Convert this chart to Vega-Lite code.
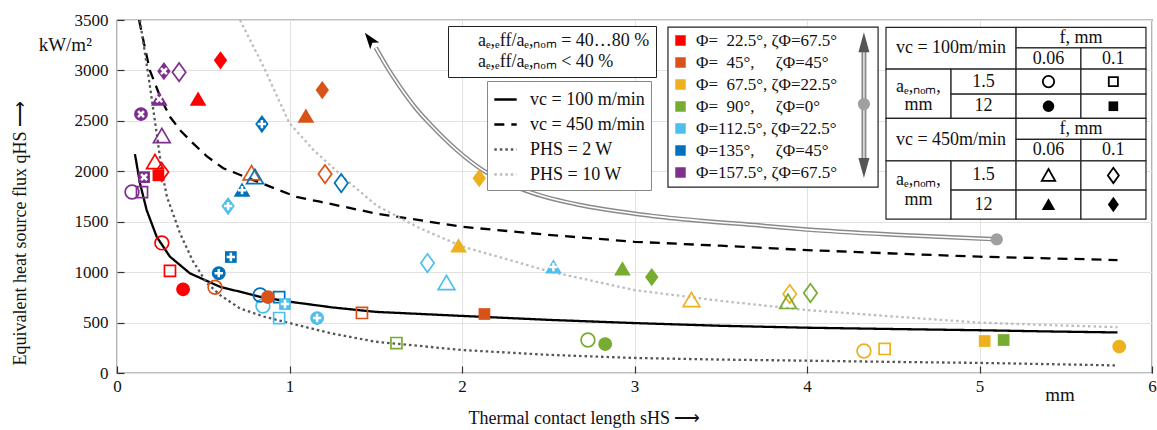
{
  "$schema": "https://vega.github.io/schema/vega-lite/v6.json",
  "width": 1035,
  "height": 353,
  "autosize": {"type": "none"},
  "padding": {"left": 117, "top": 20, "right": 5, "bottom": 57},
  "background": "white",
  "config": {
    "font": "Liberation Serif, Times New Roman, serif",
    "view": {"stroke": "#000", "strokeWidth": 1.2},
    "axis": {"labelFont": "Liberation Serif, Times New Roman, serif", "titleFont": "Liberation Serif, Times New Roman, serif", "labelColor": "#111", "titleColor": "#111"},
    "legend": {"labelFont": "Liberation Serif, Times New Roman, serif", "labelColor": "#111"},
    "text": {"font": "Liberation Serif, Times New Roman, serif"}
  },
  "datasets": {
    "pts": [
      {"x": 0.60, "y": 3100, "p": 22.5, "m": "diamond", "f": "filled", "o": ""},
      {"x": 0.47, "y": 2715, "p": 22.5, "m": "triangle", "f": "filled", "o": ""},
      {"x": 0.22, "y": 2091, "p": 22.5, "m": "triangle", "f": "open", "o": ""},
      {"x": 0.24, "y": 1960, "p": 22.5, "m": "square", "f": "filled", "o": ""},
      {"x": 0.26, "y": 1992, "p": 22.5, "m": "diamond", "f": "open", "o": ""},
      {"x": 0.26, "y": 1290, "p": 22.5, "m": "circle", "f": "open", "o": ""},
      {"x": 0.307, "y": 1012, "p": 22.5, "m": "square", "f": "open", "o": ""},
      {"x": 0.383, "y": 830, "p": 22.5, "m": "circle", "f": "filled", "o": ""},
      {"x": 1.19, "y": 2805, "p": 45, "m": "diamond", "f": "filled", "o": ""},
      {"x": 1.095, "y": 2547, "p": 45, "m": "triangle", "f": "filled", "o": ""},
      {"x": 0.78, "y": 1980, "p": 45, "m": "triangle", "f": "open", "o": ""},
      {"x": 1.206, "y": 1972, "p": 45, "m": "diamond", "f": "open", "o": ""},
      {"x": 0.568, "y": 850, "p": 45, "m": "circle", "f": "open", "o": ""},
      {"x": 0.875, "y": 753, "p": 45, "m": "circle", "f": "filled", "o": ""},
      {"x": 1.42, "y": 595, "p": 45, "m": "square", "f": "open", "o": ""},
      {"x": 2.13, "y": 585, "p": 45, "m": "square", "f": "filled", "o": ""},
      {"x": 2.10, "y": 1932, "p": 67.5, "m": "diamond", "f": "filled", "o": ""},
      {"x": 1.98, "y": 1259, "p": 67.5, "m": "triangle", "f": "filled", "o": ""},
      {"x": 3.33, "y": 723, "p": 67.5, "m": "triangle", "f": "open", "o": ""},
      {"x": 3.90, "y": 783, "p": 67.5, "m": "diamond", "f": "open", "o": ""},
      {"x": 4.33, "y": 218, "p": 67.5, "m": "circle", "f": "open", "o": ""},
      {"x": 4.45, "y": 238, "p": 67.5, "m": "square", "f": "open", "o": ""},
      {"x": 5.03, "y": 317, "p": 67.5, "m": "square", "f": "filled", "o": ""},
      {"x": 5.81, "y": 262, "p": 67.5, "m": "circle", "f": "filled", "o": ""},
      {"x": 2.93, "y": 1031, "p": 90, "m": "triangle", "f": "filled", "o": ""},
      {"x": 3.10, "y": 951, "p": 90, "m": "diamond", "f": "filled", "o": ""},
      {"x": 3.89, "y": 704, "p": 90, "m": "triangle", "f": "open", "o": ""},
      {"x": 4.02, "y": 793, "p": 90, "m": "diamond", "f": "open", "o": ""},
      {"x": 1.62, "y": 297, "p": 90, "m": "square", "f": "open", "o": ""},
      {"x": 2.73, "y": 327, "p": 90, "m": "circle", "f": "open", "o": ""},
      {"x": 2.83, "y": 287, "p": 90, "m": "circle", "f": "filled", "o": ""},
      {"x": 5.14, "y": 327, "p": 90, "m": "square", "f": "filled", "o": ""},
      {"x": 0.644, "y": 1655, "p": 112.5, "m": "diamond", "f": "filled", "o": "+"},
      {"x": 1.80, "y": 1090, "p": 112.5, "m": "diamond", "f": "open", "o": ""},
      {"x": 1.91, "y": 892, "p": 112.5, "m": "triangle", "f": "open", "o": ""},
      {"x": 2.53, "y": 1051, "p": 112.5, "m": "triangle", "f": "filled", "o": "+"},
      {"x": 0.846, "y": 664, "p": 112.5, "m": "circle", "f": "open", "o": ""},
      {"x": 0.974, "y": 684, "p": 112.5, "m": "square", "f": "filled", "o": "+"},
      {"x": 0.94, "y": 545, "p": 112.5, "m": "square", "f": "open", "o": ""},
      {"x": 1.16, "y": 545, "p": 112.5, "m": "circle", "f": "filled", "o": "+"},
      {"x": 0.84, "y": 2468, "p": 135, "m": "diamond", "f": "filled", "o": "+"},
      {"x": 0.725, "y": 1813, "p": 135, "m": "triangle", "f": "filled", "o": "+"},
      {"x": 0.80, "y": 1942, "p": 135, "m": "triangle", "f": "open", "o": ""},
      {"x": 1.30, "y": 1883, "p": 135, "m": "diamond", "f": "open", "o": ""},
      {"x": 0.59, "y": 990, "p": 135, "m": "circle", "f": "filled", "o": "+"},
      {"x": 0.66, "y": 1150, "p": 135, "m": "square", "f": "filled", "o": "+"},
      {"x": 0.83, "y": 773, "p": 135, "m": "circle", "f": "open", "o": ""},
      {"x": 0.94, "y": 753, "p": 135, "m": "square", "f": "open", "o": ""},
      {"x": 0.272, "y": 2993, "p": 157.5, "m": "diamond", "f": "filled", "o": "x"},
      {"x": 0.36, "y": 2983, "p": 157.5, "m": "diamond", "f": "open", "o": ""},
      {"x": 0.245, "y": 2715, "p": 157.5, "m": "triangle", "f": "filled", "o": "x"},
      {"x": 0.26, "y": 2349, "p": 157.5, "m": "triangle", "f": "open", "o": ""},
      {"x": 0.139, "y": 2567, "p": 157.5, "m": "circle", "f": "filled", "o": "x"},
      {"x": 0.157, "y": 1942, "p": 157.5, "m": "square", "f": "filled", "o": "x"},
      {"x": 0.087, "y": 1794, "p": 157.5, "m": "circle", "f": "open", "o": ""},
      {"x": 0.145, "y": 1794, "p": 157.5, "m": "square", "f": "open", "o": ""}
    ],
    "crv": [
      {"c": "v100", "x": 0.104, "y": 2170}, {"c": "v100", "x": 0.133, "y": 1883}, {"c": "v100", "x": 0.172, "y": 1615},
      {"c": "v100", "x": 0.23, "y": 1351}, {"c": "v100", "x": 0.307, "y": 1153}, {"c": "v100", "x": 0.423, "y": 988},
      {"c": "v100", "x": 0.597, "y": 855}, {"c": "v100", "x": 0.829, "y": 756}, {"c": "v100", "x": 1.0, "y": 707},
      {"c": "v100", "x": 1.25, "y": 650}, {"c": "v100", "x": 1.5, "y": 606}, {"c": "v100", "x": 2.0, "y": 566},
      {"c": "v100", "x": 2.5, "y": 527}, {"c": "v100", "x": 3.0, "y": 495}, {"c": "v100", "x": 3.5, "y": 468},
      {"c": "v100", "x": 4.0, "y": 449}, {"c": "v100", "x": 4.5, "y": 436}, {"c": "v100", "x": 5.0, "y": 424},
      {"c": "v100", "x": 5.4, "y": 412}, {"c": "v100", "x": 5.8, "y": 402},
      {"c": "v450", "x": 0.128, "y": 3500}, {"c": "v450", "x": 0.16, "y": 3240}, {"c": "v450", "x": 0.19, "y": 3003},
      {"c": "v450", "x": 0.25, "y": 2740}, {"c": "v450", "x": 0.307, "y": 2540}, {"c": "v450", "x": 0.37, "y": 2400},
      {"c": "v450", "x": 0.44, "y": 2279}, {"c": "v450", "x": 0.52, "y": 2150}, {"c": "v450", "x": 0.616, "y": 2030},
      {"c": "v450", "x": 0.79, "y": 1913}, {"c": "v450", "x": 1.04, "y": 1747}, {"c": "v450", "x": 1.177, "y": 1698},
      {"c": "v450", "x": 1.5, "y": 1582}, {"c": "v450", "x": 2.0, "y": 1450}, {"c": "v450", "x": 2.5, "y": 1370},
      {"c": "v450", "x": 3.0, "y": 1301}, {"c": "v450", "x": 3.5, "y": 1262}, {"c": "v450", "x": 4.0, "y": 1219},
      {"c": "v450", "x": 4.5, "y": 1185}, {"c": "v450", "x": 5.0, "y": 1153}, {"c": "v450", "x": 5.4, "y": 1137},
      {"c": "v450", "x": 5.8, "y": 1120},
      {"c": "p2", "x": 0.133, "y": 3500}, {"c": "p2", "x": 0.155, "y": 3250}, {"c": "p2", "x": 0.18, "y": 2973},
      {"c": "p2", "x": 0.23, "y": 2378}, {"c": "p2", "x": 0.26, "y": 2000}, {"c": "p2", "x": 0.29, "y": 1744},
      {"c": "p2", "x": 0.365, "y": 1387}, {"c": "p2", "x": 0.44, "y": 1110}, {"c": "p2", "x": 0.52, "y": 892},
      {"c": "p2", "x": 0.6, "y": 770}, {"c": "p2", "x": 0.713, "y": 640}, {"c": "p2", "x": 0.85, "y": 560},
      {"c": "p2", "x": 1.0, "y": 495}, {"c": "p2", "x": 1.25, "y": 390}, {"c": "p2", "x": 1.5, "y": 310},
      {"c": "p2", "x": 2.0, "y": 228}, {"c": "p2", "x": 2.5, "y": 180}, {"c": "p2", "x": 3.0, "y": 149},
      {"c": "p2", "x": 3.5, "y": 133}, {"c": "p2", "x": 4.0, "y": 122}, {"c": "p2", "x": 4.5, "y": 110},
      {"c": "p2", "x": 5.0, "y": 100}, {"c": "p2", "x": 5.4, "y": 88}, {"c": "p2", "x": 5.8, "y": 75},
      {"c": "p10", "x": 0.713, "y": 3500}, {"c": "p10", "x": 0.85, "y": 3036}, {"c": "p10", "x": 1.0, "y": 2476},
      {"c": "p10", "x": 1.14, "y": 2210}, {"c": "p10", "x": 1.33, "y": 1913}, {"c": "p10", "x": 1.505, "y": 1660},
      {"c": "p10", "x": 1.75, "y": 1440}, {"c": "p10", "x": 2.0, "y": 1255}, {"c": "p10", "x": 2.5, "y": 1010},
      {"c": "p10", "x": 3.0, "y": 822}, {"c": "p10", "x": 3.5, "y": 715}, {"c": "p10", "x": 4.0, "y": 624},
      {"c": "p10", "x": 4.5, "y": 560}, {"c": "p10", "x": 5.0, "y": 500}, {"c": "p10", "x": 5.4, "y": 475},
      {"c": "p10", "x": 5.8, "y": 455}
    ],
    "arr": [
      {"x": 1.5, "y": 3225}, {"x": 1.57, "y": 3020}, {"x": 1.64, "y": 2838}, {"x": 1.73, "y": 2630}, {"x": 1.83, "y": 2441},
      {"x": 1.97, "y": 2210}, {"x": 2.12, "y": 2012}, {"x": 2.26, "y": 1885},
      {"x": 2.41, "y": 1784}, {"x": 2.70, "y": 1660}, {"x": 3.09, "y": 1560}, {"x": 3.38, "y": 1510},
      {"x": 3.73, "y": 1462}, {"x": 4.0, "y": 1422}, {"x": 4.54, "y": 1368}, {"x": 5.10, "y": 1325}
    ],
    "heads": [
      {"x": 1.467, "y": 3305, "k": "main"},
      {"x": 4.33, "y": 3280, "k": "up"},
      {"x": 4.33, "y": 2032, "k": "down"}
    ],
    "dots": [{"x": 5.10, "y": 1325}, {"x": 4.33, "y": 2666}],
    "shaft": [{"x": 4.33, "y": 3250, "y2": 2060}],
    "boxes": [
      {"x1": 3.194, "x2": 4.412, "y1": 1843, "y2": 3429},
      {"x1": 4.458, "x2": 5.212, "y1": 3013, "y2": 3426},
      {"x1": 5.212, "x2": 5.965, "y1": 3224, "y2": 3426},
      {"x1": 5.212, "x2": 5.588, "y1": 3013, "y2": 3224},
      {"x1": 5.588, "x2": 5.965, "y1": 3013, "y2": 3224},
      {"x1": 4.458, "x2": 4.835, "y1": 2524, "y2": 3013},
      {"x1": 4.835, "x2": 5.212, "y1": 2765, "y2": 3013},
      {"x1": 4.835, "x2": 5.212, "y1": 2524, "y2": 2765},
      {"x1": 5.212, "x2": 5.588, "y1": 2765, "y2": 3013},
      {"x1": 5.588, "x2": 5.965, "y1": 2765, "y2": 3013},
      {"x1": 5.212, "x2": 5.588, "y1": 2524, "y2": 2765},
      {"x1": 5.588, "x2": 5.965, "y1": 2524, "y2": 2765},
      {"x1": 4.458, "x2": 5.212, "y1": 2104, "y2": 2524},
      {"x1": 5.212, "x2": 5.965, "y1": 2316, "y2": 2524},
      {"x1": 5.212, "x2": 5.588, "y1": 2104, "y2": 2316},
      {"x1": 5.588, "x2": 5.965, "y1": 2104, "y2": 2316},
      {"x1": 4.458, "x2": 4.835, "y1": 1526, "y2": 2104},
      {"x1": 4.835, "x2": 5.212, "y1": 1814, "y2": 2104},
      {"x1": 4.835, "x2": 5.212, "y1": 1526, "y2": 1814},
      {"x1": 5.212, "x2": 5.588, "y1": 1814, "y2": 2104},
      {"x1": 5.588, "x2": 5.965, "y1": 1814, "y2": 2104},
      {"x1": 5.212, "x2": 5.588, "y1": 1526, "y2": 1814},
      {"x1": 5.588, "x2": 5.965, "y1": 1526, "y2": 1814}
    ],
    "ttext": [
      {"x": 4.835, "y": 3220, "t": "vc = 100m/min"},
      {"x": 5.588, "y": 3325, "t": "f, mm"},
      {"x": 5.40, "y": 3118, "t": "0.06"},
      {"x": 5.776, "y": 3118, "t": "0.1"},
      {"x": 4.646, "y": 2840, "t": "aₑ,ₙₒₘ,"},
      {"x": 4.646, "y": 2660, "t": "mm"},
      {"x": 5.023, "y": 2889, "t": "1.5"},
      {"x": 5.023, "y": 2645, "t": "12"},
      {"x": 4.835, "y": 2314, "t": "vc = 450m/min"},
      {"x": 5.588, "y": 2420, "t": "f, mm"},
      {"x": 5.40, "y": 2210, "t": "0.06"},
      {"x": 5.776, "y": 2210, "t": "0.1"},
      {"x": 4.646, "y": 1913, "t": "aₑ,ₙₒₘ,"},
      {"x": 4.646, "y": 1715, "t": "mm"},
      {"x": 5.023, "y": 1959, "t": "1.5"},
      {"x": 5.023, "y": 1670, "t": "12"}
    ],
    "tmark": [
      {"x": 5.40, "y": 2889, "m": "circle", "f": "open"},
      {"x": 5.776, "y": 2889, "m": "square", "f": "open"},
      {"x": 5.40, "y": 2645, "m": "circle", "f": "filled"},
      {"x": 5.776, "y": 2645, "m": "square", "f": "filled"},
      {"x": 5.40, "y": 1959, "m": "triangle", "f": "open"},
      {"x": 5.776, "y": 1959, "m": "diamond", "f": "open"},
      {"x": 5.40, "y": 1670, "m": "triangle", "f": "filled"},
      {"x": 5.776, "y": 1670, "m": "diamond", "f": "filled"}
    ],
    "ann": [
      {"x": -0.30, "y": 3250, "t": "kW/m²"},
      {"x": 5.467, "y": -218, "t": "mm"}
    ]
  },
  "layer": [
    {
      "data": {"name": "boxes"},
      "mark": {"type": "rect", "fill": "white", "stroke": "#222", "strokeWidth": 1.2},
      "encoding": {
        "x": {"field": "x1", "type": "quantitative", "scale": {"domain": [0, 6], "nice": false, "zero": false},
          "axis": {"values": [0, 1, 2, 3, 4, 5, 6], "format": "d", "grid": true, "gridColor": "#e2e2e2", "domain": false,
            "ticks": true, "tickSize": -7, "tickColor": "#333", "tickWidth": 1.2,
            "labelFontSize": 17, "labelPadding": 12, "labelFlush": false,
            "title": "Thermal contact length sHS ⟶", "titleFontSize": 18, "titleFontWeight": "normal",
            "titleAnchor": "start", "titleX": 351, "titleY": 50, "titleBaseline": "alphabetic"}},
        "x2": {"field": "x2"},
        "y": {"field": "y1", "type": "quantitative", "scale": {"domain": [0, 3500], "nice": false, "zero": false},
          "axis": {"values": [0, 500, 1000, 1500, 2000, 2500, 3000, 3500], "format": "d", "grid": true, "gridColor": "#e2e2e2", "domain": false,
            "ticks": true, "tickSize": -7, "tickColor": "#333", "tickWidth": 1.2,
            "labelFontSize": 17, "labelPadding": 16,
            "title": "Equivalent heat source flux qHS ⟶", "titleFontSize": 18, "titleFontWeight": "normal",
            "titleAngle": -90, "titleAlign": "left", "titleBaseline": "middle", "titleX": -97, "titleY": 345}},
        "y2": {"field": "y2"}
      }
    },
    {
      "data": {"name": "crv"},
      "mark": {"type": "line", "strokeWidth": 2.3, "clip": true},
      "encoding": {
        "x": {"field": "x", "type": "quantitative"},
        "y": {"field": "y", "type": "quantitative"},
        "stroke": {"field": "c", "type": "nominal",
          "scale": {"domain": ["v100", "v450", "p2", "p10"], "range": ["#000000", "#000000", "#555555", "#bdbdbd"]},
          "legend": {"orient": "none", "legendX": 370, "legendY": 61, "title": null, "fillColor": "white", "strokeColor": "#888",
            "padding": 6, "symbolType": "stroke", "symbolSize": 500, "symbolStrokeWidth": 2.5, "labelFontSize": 18, "rowPadding": 3, "labelOffset": 12,
            "labelExpr": "{'v100':'vc = 100 m/min','v450':'vc = 450 m/min','p2':'PHS = 2 W','p10':'PHS = 10 W'}[datum.value]"}},
        "strokeDash": {"field": "c", "type": "nominal",
          "scale": {"domain": ["v100", "v450", "p2", "p10"], "range": [[1, 0], [10, 7], [2.5, 3], [2.5, 3]]},
          "legend": {"orient": "none", "legendX": 370, "legendY": 61, "title": null, "fillColor": "white", "strokeColor": "#888",
            "padding": 6, "symbolType": "stroke", "symbolSize": 500, "symbolStrokeWidth": 2.5, "labelFontSize": 18, "rowPadding": 3, "labelOffset": 12,
            "labelExpr": "{'v100':'vc = 100 m/min','v450':'vc = 450 m/min','p2':'PHS = 2 W','p10':'PHS = 10 W'}[datum.value]"}}
      }
    },
    {
      "data": {"name": "arr"},
      "mark": {"type": "line", "stroke": "#8a8a8a", "strokeWidth": 4.5, "interpolate": "monotone"},
      "encoding": {"x": {"field": "x", "type": "quantitative"}, "y": {"field": "y", "type": "quantitative"}}
    },
    {
      "data": {"name": "arr"},
      "mark": {"type": "line", "stroke": "white", "strokeWidth": 1.6, "interpolate": "monotone"},
      "encoding": {"x": {"field": "x", "type": "quantitative"}, "y": {"field": "y", "type": "quantitative"}}
    },
    {
      "data": {"name": "shaft"},
      "mark": {"type": "rule", "stroke": "#8a8a8a", "strokeWidth": 5},
      "encoding": {"x": {"field": "x", "type": "quantitative"}, "y": {"field": "y", "type": "quantitative"}, "y2": {"field": "y2"}}
    },
    {
      "data": {"name": "shaft"},
      "mark": {"type": "rule", "stroke": "#e0e0e0", "strokeWidth": 1.6},
      "encoding": {"x": {"field": "x", "type": "quantitative"}, "y": {"field": "y", "type": "quantitative"}, "y2": {"field": "y2"}}
    },
    {
      "data": {"name": "heads"},
      "transform": [{"filter": "datum.k == 'main'"}],
      "mark": {"type": "point", "filled": true, "color": "#000", "opacity": 1, "size": 300, "angle": -37,
        "shape": "M0,-1L0.65,0.9L0,0.45L-0.65,0.9Z"},
      "encoding": {"x": {"field": "x", "type": "quantitative"}, "y": {"field": "y", "type": "quantitative"}}
    },
    {
      "data": {"name": "heads"},
      "transform": [{"filter": "datum.k == 'up'"}],
      "mark": {"type": "point", "filled": true, "color": "#555", "opacity": 1, "size": 400, "shape": "M0,-1L0.55,1L-0.55,1Z"},
      "encoding": {"x": {"field": "x", "type": "quantitative"}, "y": {"field": "y", "type": "quantitative"}}
    },
    {
      "data": {"name": "heads"},
      "transform": [{"filter": "datum.k == 'down'"}],
      "mark": {"type": "point", "filled": true, "color": "#555", "opacity": 1, "size": 400, "shape": "M0,1L0.55,-1L-0.55,-1Z"},
      "encoding": {"x": {"field": "x", "type": "quantitative"}, "y": {"field": "y", "type": "quantitative"}}
    },
    {
      "data": {"name": "dots"},
      "mark": {"type": "point", "filled": true, "color": "#a0a0a0", "opacity": 1, "size": 150, "shape": "circle"},
      "encoding": {"x": {"field": "x", "type": "quantitative"}, "y": {"field": "y", "type": "quantitative"}}
    },
    {
      "data": {"name": "pts"},
      "transform": [{"filter": "datum.f == 'open'"}],
      "mark": {"type": "point", "filled": false, "strokeWidth": 1.7, "opacity": 1, "size": 280},
      "encoding": {
        "x": {"field": "x", "type": "quantitative"},
        "y": {"field": "y", "type": "quantitative"},
        "shape": {"field": "m", "type": "nominal", "legend": null,
          "scale": {"domain": ["circle", "square", "triangle", "diamond"],
            "range": ["M0.82,0A0.82,0.82 0 1,1 -0.82,0A0.82,0.82 0 1,1 0.82,0Z", "M-0.66,-0.66H0.66V0.66H-0.66Z", "M0,-0.92L1,0.78L-1,0.78Z", "M0,-1.1L0.8,0L0,1.1L-0.8,0Z"]}},
        "color": {"field": "p", "type": "nominal",
          "scale": {"domain": [22.5, 45, 67.5, 90, 112.5, 135, 157.5], "range": ["#ff0000", "#d95319", "#edb120", "#77ac30", "#4dbeee", "#0072bd", "#7e2f8e"]},
          "legend": {"orient": "none", "legendX": 555, "legendY": 12, "title": null, "symbolType": "square", "symbolSize": 80,
            "labelFontSize": 17, "rowPadding": 4, "labelOffset": 7, "padding": 0, "labelLimit": 300,
            "encode": {"symbols": {"update": {"fill": {"scale": "color", "field": "value"}, "stroke": {"value": "transparent"}, "opacity": {"value": 1}}}},
            "labelExpr": "{'22.5':'Φ=\u00a0\u00a022.5°, ζΦ=67.5°','45':'Φ=\u00a0\u00a045°,\u00a0\u00a0\u00a0\u00a0\u00a0ζΦ=45°','67.5':'Φ=\u00a0\u00a067.5°, ζΦ=22.5°','90':'Φ=\u00a0\u00a090°,\u00a0\u00a0\u00a0\u00a0\u00a0ζΦ=0°','112.5':'Φ=112.5°, ζΦ=22.5°','135':'Φ=135°,\u00a0\u00a0\u00a0\u00a0\u00a0ζΦ=45°','157.5':'Φ=157.5°, ζΦ=67.5°'}[datum.value]"}}
      }
    },
    {
      "data": {"name": "pts"},
      "transform": [{"filter": "datum.f == 'filled'"}],
      "mark": {"type": "point", "filled": true, "opacity": 1, "size": 280},
      "encoding": {
        "x": {"field": "x", "type": "quantitative"},
        "y": {"field": "y", "type": "quantitative"},
        "shape": {"field": "m", "type": "nominal", "legend": null,
          "scale": {"domain": ["circle", "square", "triangle", "diamond"],
            "range": ["M0.82,0A0.82,0.82 0 1,1 -0.82,0A0.82,0.82 0 1,1 0.82,0Z", "M-0.7,-0.7H0.7V0.7H-0.7Z", "M0,-0.92L1,0.78L-1,0.78Z", "M0,-1.1L0.8,0L0,1.1L-0.8,0Z"]}},
        "color": {"field": "p", "type": "nominal"}
      }
    },
    {
      "data": {"name": "pts"},
      "transform": [{"filter": "datum.o != ''"}],
      "mark": {"type": "point", "filled": true, "color": "white", "opacity": 1, "size": 70},
      "encoding": {
        "x": {"field": "x", "type": "quantitative"},
        "y": {"field": "y", "type": "quantitative"},
        "shape": {"field": "o", "type": "nominal",
          "scale": {"domain": ["+", "x"], "range": [
            "M-0.3,-1L0.3,-1L0.3,-0.3L1,-0.3L1,0.3L0.3,0.3L0.3,1L-0.3,1L-0.3,0.3L-1,0.3L-1,-0.3L-0.3,-0.3Z",
            "M0.495,-0.919L0.919,-0.495L0.424,0L0.919,0.495L0.495,0.919L0,0.424L-0.495,0.919L-0.919,0.495L-0.424,0L-0.919,-0.495L-0.495,-0.919L0,-0.424Z"]},
          "legend": {"orient": "none", "legendX": 331, "legendY": 6, "title": null, "fillColor": "white", "strokeColor": "#222",
            "padding": 6, "symbolSize": 60, "labelFontSize": 18, "rowPadding": 3, "labelOffset": 6, "labelLimit": 300,
            "encode": {"symbols": {"update": {"fill": {"value": "black"}, "stroke": {"value": "transparent"}, "opacity": {"value": 1}}}},
            "labelExpr": "datum.value == '+' ? 'aₑ,ₑff/aₑ,ₙₒₘ = 40…80 %' : 'aₑ,ₑff/aₑ,ₙₒₘ < 40 %'"}}
      }
    },
    {
      "data": {"name": "ttext"},
      "mark": {"type": "text", "fontSize": 18, "color": "#111", "baseline": "middle"},
      "encoding": {"x": {"field": "x", "type": "quantitative"}, "y": {"field": "y", "type": "quantitative"}, "text": {"field": "t"}}
    },
    {
      "data": {"name": "tmark"},
      "transform": [{"filter": "datum.f == 'open'"}],
      "mark": {"type": "point", "filled": false, "color": "#000", "strokeWidth": 1.8, "opacity": 1, "size": 180},
      "encoding": {
        "x": {"field": "x", "type": "quantitative"},
        "y": {"field": "y", "type": "quantitative"},
        "shape": {"field": "m", "type": "nominal", "legend": null,
          "scale": {"domain": ["circle", "square", "triangle", "diamond"],
            "range": ["M0.85,0A0.85,0.85 0 1,1 -0.85,0A0.85,0.85 0 1,1 0.85,0Z", "M-0.68,-0.68H0.68V0.68H-0.68Z", "M0,-0.95L1,0.8L-1,0.8Z", "M0,-1.15L0.82,0L0,1.15L-0.82,0Z"]}}
      }
    },
    {
      "data": {"name": "tmark"},
      "transform": [{"filter": "datum.f == 'filled'"}],
      "mark": {"type": "point", "filled": true, "color": "#000", "opacity": 1, "size": 180},
      "encoding": {
        "x": {"field": "x", "type": "quantitative"},
        "y": {"field": "y", "type": "quantitative"},
        "shape": {"field": "m", "type": "nominal", "legend": null,
          "scale": {"domain": ["circle", "square", "triangle", "diamond"],
            "range": ["M0.85,0A0.85,0.85 0 1,1 -0.85,0A0.85,0.85 0 1,1 0.85,0Z", "M-0.72,-0.72H0.72V0.72H-0.72Z", "M0,-0.95L1,0.8L-1,0.8Z", "M0,-1.15L0.82,0L0,1.15L-0.82,0Z"]}}
      }
    },
    {
      "data": {"name": "ann"},
      "mark": {"type": "text", "fontSize": 19, "color": "#111", "baseline": "middle"},
      "encoding": {"x": {"field": "x", "type": "quantitative"}, "y": {"field": "y", "type": "quantitative"}, "text": {"field": "t"}}
    }
  ],
  "resolve": {"scale": {"shape": "independent"}}
}
